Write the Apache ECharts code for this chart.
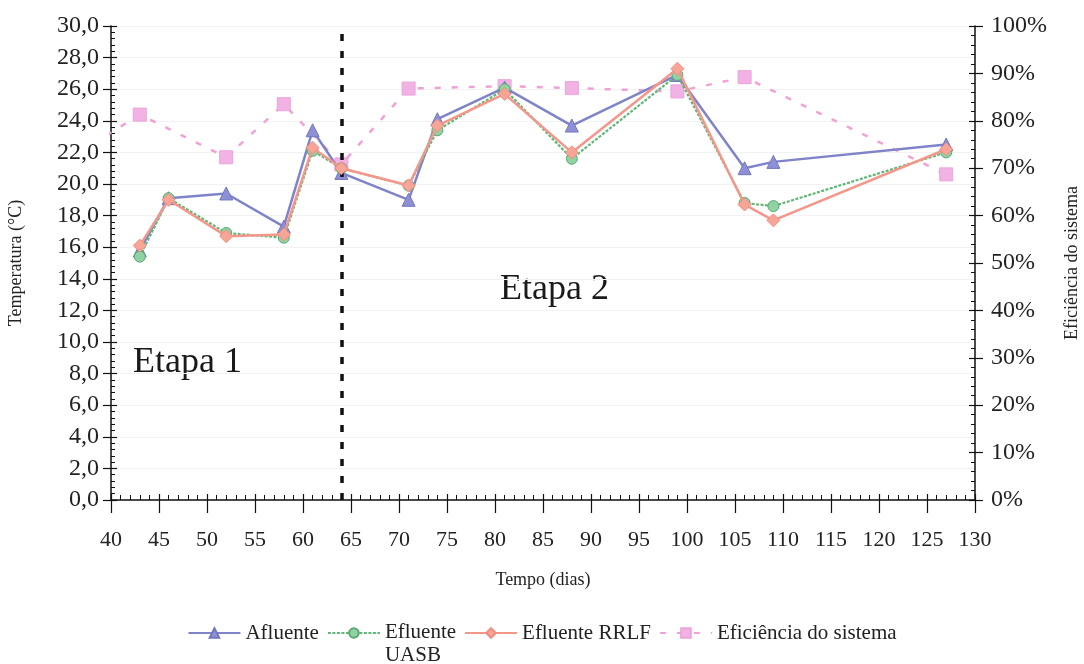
<!DOCTYPE html>
<html>
<head>
<meta charset="utf-8">
<script src="https://cdn.jsdelivr.net/npm/echarts@6/dist/echarts.min.js"></script>
<style>
  html, body { margin: 0; padding: 0; background: #fff; }
  #chart { width: 1084px; height: 664px; }
</style>
</head>
<body>
<div id="chart"></div>
<script>
// Sampling days
const dias = [43, 46, 52, 58, 61, 64, 71, 74, 81, 88, 99, 106, 109, 127];
// Temperatures (°C)
const afluente   = [15.8, 19.1, 19.4, 17.3, 23.4, 20.7, 19.0, 24.1, 26.1, 23.7, 26.9, 21.0, 21.4, 22.5];
const efluenteUASB = [15.4, 19.1, 16.9, 16.6, 22.1, 21.0, 19.9, 23.4, 26.0, 21.6, 26.9, 18.8, 18.6, 22.0];
const efluenteRRLF = [16.1, 19.0, 16.7, 16.8, 22.3, 21.0, 19.9, 23.7, 25.7, 22.0, 27.3, 18.7, 17.7, 22.2];
// System efficiency (%)
const diasEficiencia = [38, 43, 52, 58, 64, 71, 81, 88, 99, 106, 127];
const eficiencia = [75.0, 81.3, 72.3, 83.5, 70.8, 86.8, 87.3, 86.9, 86.2, 89.2, 68.7];
// Boundary between stages (day)
const divisaEtapas = 64;

const pairs = (xs, ys) => xs.map((x, i) => [x, ys[i]]);

const serif = '"Liberation Serif", "DejaVu Serif", serif';
const ink = '#222';

const chart = echarts.init(document.getElementById('chart'));

chart.setOption({
  backgroundColor: '#ffffff',
  animation: false,
  textStyle: { fontFamily: serif, color: ink },
  grid: { left: 111, right: 109, top: 26, bottom: 164, outerBoundsMode: 'none', containLabel: false },
  legend: {
    top: 617,
    left: 'center',
    itemWidth: 52,
    itemHeight: 12,
    itemGap: 8,
    textStyle: {
      fontFamily: serif, fontSize: 21, color: ink,
      rich: {
        // first line of a wrapped entry stays level with the legend icon
        l1: { fontFamily: serif, fontSize: 21, color: ink, lineHeight: 44 },
        l2: { fontFamily: serif, fontSize: 21, color: ink, lineHeight: 1 }
      }
    },
    formatter: name => {
      const parts = name.split('\n');
      return parts.length > 1 ? '{l1|' + parts[0] + '}\n{l2|' + parts[1] + '}' : name;
    },
    data: ['Afluente', 'Efluente\nUASB', 'Efluente RRLF', 'Eficiência do sistema']
  },
  xAxis: [
    {
      type: 'value', min: 40, max: 130, interval: 5,
      name: 'Tempo (dias)', nameLocation: 'middle', nameGap: 71,
      nameTextStyle: { fontFamily: serif, fontSize: 18, color: ink },
      axisLine: { show: true, onZero: false, lineStyle: { color: '#111', width: 1.5 } },
      axisTick: { show: true, length: 13, lineStyle: { color: '#111', width: 1.2 } },
      axisLabel: { fontFamily: serif, fontSize: 22, color: ink, margin: 29 },
      splitLine: { show: false }
    },
    {
      type: 'value', min: 40, max: 130, interval: 5, position: 'bottom', offset: 0,
      axisLine: { show: false },
      axisTick: { show: true, inside: true, length: 6, lineStyle: { color: '#111', width: 1.2 } },
      minorTick: { show: true, splitNumber: 5, length: 5, lineStyle: { color: '#111', width: 1 } },
      axisLabel: { show: false },
      splitLine: { show: false }
    }
  ],
  yAxis: [
    {
      type: 'value', min: 0, max: 30, interval: 2, position: 'left',
      name: 'Temperatura (°C)', nameLocation: 'middle', nameGap: 86, nameRotate: 90,
      nameTextStyle: { fontFamily: serif, fontSize: 18, color: ink },
      axisLine: { show: true, lineStyle: { color: '#111', width: 1.5 } },
      axisTick: { show: true, length: 8, lineStyle: { color: '#111', width: 1.2 } },
      axisLabel: {
        fontFamily: serif, fontSize: 24, color: ink, margin: 12,
        formatter: v => v.toFixed(1).replace('.', ',')
      },
      splitLine: { show: true, lineStyle: { color: '#f2f2f2', width: 1 } }
    },
    {
      type: 'value', min: 0, max: 100, interval: 10, position: 'right',
      name: 'Eficiência do sistema', nameLocation: 'middle', nameGap: 88, nameRotate: 90,
      nameTextStyle: { fontFamily: serif, fontSize: 18, color: ink },
      axisLine: { show: true, lineStyle: { color: '#111', width: 1.5 } },
      axisTick: { show: true, length: 8, lineStyle: { color: '#111', width: 1.2 } },
      axisLabel: { fontFamily: serif, fontSize: 24, color: ink, margin: 16, formatter: '{value}%' },
      splitLine: { show: false }
    },
    {
      type: 'value', min: 0, max: 30, interval: 2, position: 'left', offset: 0,
      axisLine: { show: false },
      axisTick: { show: true, inside: true, length: 6, lineStyle: { color: '#111', width: 1.2 } },
      minorTick: { show: true, splitNumber: 5, length: 4, lineStyle: { color: '#111', width: 1 } },
      axisLabel: { show: false },
      splitLine: { show: false }
    },
    {
      type: 'value', min: 0, max: 100, interval: 10, position: 'right', offset: 0,
      axisLine: { show: false },
      axisTick: { show: true, inside: true, length: 6, lineStyle: { color: '#111', width: 1.2 } },
      minorTick: { show: true, splitNumber: 5, length: 4, lineStyle: { color: '#111', width: 1 } },
      axisLabel: { show: false },
      splitLine: { show: false }
    }
  ],
  series: [
    {
      name: 'Eficiência do sistema',
      type: 'line',
      yAxisIndex: 1,
      data: pairs(diasEficiencia, eficiencia),
      clip: true,
      symbol: 'rect',
      symbolSize: 13,
      itemStyle: { color: '#f2b2e4', borderColor: '#eaa3dc', borderWidth: 1 },
      lineStyle: { color: '#f0a2d6', width: 2.5, type: [6, 11] },
      z: 2
    },
    {
      name: 'Afluente',
      type: 'line',
      data: pairs(dias, afluente),
      symbol: 'triangle',
      symbolSize: 13,
      itemStyle: { color: '#8d90d4', borderColor: '#7377c0', borderWidth: 1 },
      lineStyle: { color: '#7f83c9', width: 2.5 },
      z: 3,
      markLine: {
        silent: true,
        symbol: ['none', 'none'],
        label: { show: false },
        lineStyle: { color: '#111', width: 3.5, type: [7, 10] },
        data: [{ xAxis: divisaEtapas }]
      }
    },
    {
      name: 'Efluente\nUASB',
      type: 'line',
      data: pairs(dias, efluenteUASB),
      symbol: 'circle',
      symbolSize: 11,
      itemStyle: { color: '#8fd3a2', borderColor: '#5aa872', borderWidth: 1 },
      lineStyle: { color: '#5fb878', width: 2.2, type: [3, 1.5] },
      z: 4
    },
    {
      name: 'Efluente RRLF',
      type: 'line',
      data: pairs(dias, efluenteRRLF),
      symbol: 'diamond',
      symbolSize: 13,
      itemStyle: { color: '#f7a597', borderColor: '#ef8e80', borderWidth: 1 },
      lineStyle: { color: '#f4978a', width: 2.5 },
      z: 5
    }
  ],
  graphic: [
    {
      type: 'text', left: 133, top: 345,
      style: { text: 'Etapa 1', fontFamily: serif, fontSize: 36, fill: '#1a1a1a' }
    },
    {
      type: 'text', left: 500, top: 272,
      style: { text: 'Etapa 2', fontFamily: serif, fontSize: 36, fill: '#1a1a1a' }
    }
  ]
});
</script>
</body>
</html>
